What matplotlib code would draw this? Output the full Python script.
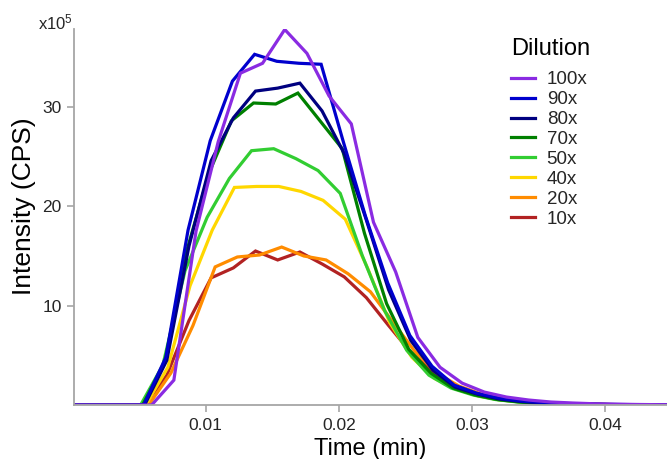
import numpy as np
import matplotlib.pyplot as plt

plt.rcParams["font.family"] = ["Liberation Sans", "DejaVu Sans"]
plt.rcParams["mathtext.fontset"] = "custom"
plt.rcParams["mathtext.rm"] = "Liberation Sans"

# dilution series, legend order
dilutions = ["100x", "90x", "80x", "70x", "50x", "40x", "20x", "10x"]
colors = ["#8a2be2", "#0000cd", "#000080", "#008000",
          "#32cd32", "#ffd700", "#ff8c00", "#b22222"]

# detector samples every 0.1 s (in minutes); first sample time of each trace
step = 1 / 600
start_times = [-0.00073, -0.00133, -0.00126, -0.00141,
               -0.00156, -0.00118, -0.00096, -0.00126]

# intensity, in units of 1e5 CPS
i_100x = [0, 0, 0, 0, 0, 2.5, 17.5, 26.5, 33.4, 34.4, 37.8, 35.4, 31.1, 28.3,
          18.4, 13.4, 6.8, 3.8, 2.2, 1.3, 0.8, 0.5, 0.3, 0.2, 0.12, 0.08,
          0.05, 0.03, 0.02]
i_90x = [0, 0, 0, 0, 0, 4.8, 17.6, 26.6, 32.6, 35.3, 34.6, 34.4, 34.3, 26.5,
         19.0, 12.3, 7.0, 3.9, 2.0, 1.2, 0.7, 0.4, 0.25, 0.15, 0.1, 0.06,
         0.04, 0.02, 0.01]
i_80x = [0, 0, 0, 0, 0, 4.5, 16.0, 24.6, 28.9, 31.6, 31.9, 32.4, 29.6, 25.3,
         18.6, 11.6, 6.5, 3.5, 1.8, 1.1, 0.6, 0.35, 0.2, 0.12, 0.08, 0.05,
         0.03, 0.02, 0.01]
i_70x = [0, 0, 0, 0, 0, 4.3, 15.6, 23.4, 28.6, 30.4, 30.3, 31.4, 28.6, 25.8,
         17.3, 10.2, 5.6, 3.2, 1.7, 1.0, 0.55, 0.3, 0.18, 0.1, 0.07, 0.04,
         0.02, 0.01, 0.01]
i_50x = [0, 0, 0, 0, 0, 4.0, 13.5, 18.9, 22.8, 25.6, 25.8, 24.8, 23.6, 21.3,
         15.0, 9.5, 5.5, 3.0, 1.7, 1.0, 0.55, 0.3, 0.18, 0.1, 0.06, 0.04,
         0.02, 0.01, 0.01]
i_40x = [0, 0, 0, 0, 0, 3.8, 12.0, 17.6, 21.9, 22.0, 22.0, 21.5, 20.6, 18.7,
         13.8, 8.3, 4.8, 2.7, 1.6, 0.9, 0.5, 0.3, 0.17, 0.1, 0.06, 0.04,
         0.02, 0.01, 0.01]
i_20x = [0, 0, 0, 0, 0, 3.2, 8.0, 13.9, 14.9, 15.1, 15.9, 15.0, 14.6, 13.2,
         11.4, 8.4, 5.4, 3.2, 1.9, 1.1, 0.65, 0.35, 0.2, 0.12, 0.07, 0.04,
         0.02, 0.01, 0.01]
i_10x = [0, 0, 0, 0, 0, 3.0, 8.5, 12.8, 13.8, 15.5, 14.6, 15.4, 14.2, 12.9,
         10.8, 8.0, 5.3, 3.3, 1.9, 1.1, 0.6, 0.35, 0.2, 0.12, 0.07, 0.04,
         0.02, 0.01, 0.01]
intensities = [i_100x, i_90x, i_80x, i_70x, i_50x, i_40x, i_20x, i_10x]

axis_grey = "#a6a6a6"
text_dark = "#262626"

fig = plt.figure(figsize=(6.67, 4.59), dpi=100)
ax = fig.add_axes([74 / 667, 1 - 405 / 459, 1 - 74 / 667, 376 / 459])

handles = {}
# lowest dilution drawn first so the stronger traces sit on top
for name, col, t0, vals in reversed(list(zip(dilutions, colors, start_times, intensities))):
    t = t0 + step * np.arange(len(vals))
    line, = ax.plot(t, vals, color=col, lw=2.3, solid_joinstyle="miter")
    handles[name] = line

ax.set_xlim(0.0001, 0.04466)
ax.set_ylim(0, 37.85)

ax.set_xticks([0.01, 0.02, 0.03, 0.04])
ax.set_xticklabels(["0.01", "0.02", "0.03", "0.04"])
ax.set_yticks([10, 20, 30])
ax.set_yticklabels(["10", "20", "30"])

for side in ["top", "right"]:
    ax.spines[side].set_visible(False)
for side in ["left", "bottom"]:
    ax.spines[side].set_color(axis_grey)
    ax.spines[side].set_linewidth(1.3)
ax.tick_params(colors=axis_grey, labelcolor=text_dark, length=5, width=1.2,
               labelsize=12.5, pad=4)

ax.set_xlabel("Time (min)", fontsize=17, color="black", labelpad=4)
ax.set_ylabel("Intensity (CPS)", fontsize=19, color="black")
ax.yaxis.set_label_coords(-0.064, 0.53)

ax.annotate(r"$\mathregular{x10^5}$", xy=(0, 1), xycoords="axes fraction",
            xytext=(-1, 0), textcoords="offset points", ha="right",
            va="baseline", fontsize=12, color=text_dark)

leg = ax.legend([handles[n] for n in dilutions], dilutions, title="Dilution",
                loc="upper left", bbox_to_anchor=(511 / 667, 1 - 38 / 459),
                bbox_transform=fig.transFigure, frameon=False, fontsize=13.5,
                title_fontsize=17, handlelength=1.3, handletextpad=0.6,
                labelspacing=0.15, borderpad=0, borderaxespad=0,
                alignment="left")
leg._legend_box.sep = 8
for txt in leg.get_texts():
    txt.set_color(text_dark)

fig.savefig("out.png", dpi=100)
